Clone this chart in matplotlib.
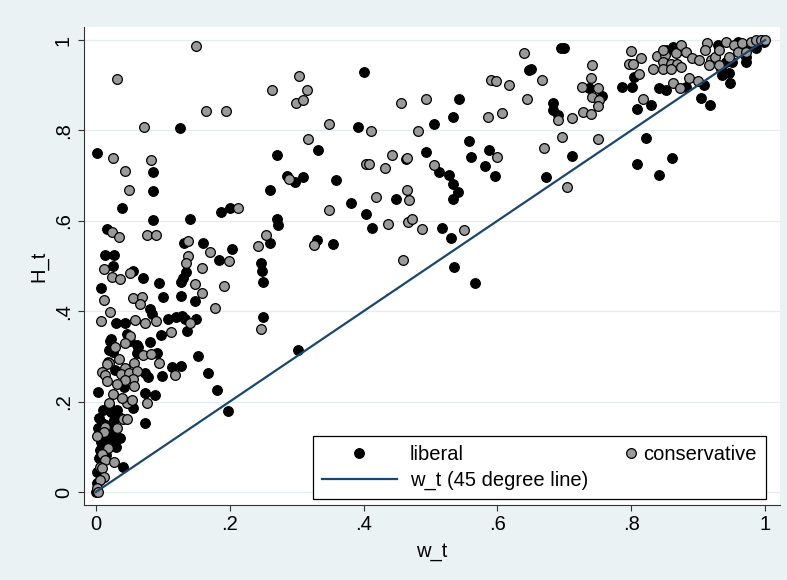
import numpy as np
import matplotlib
matplotlib.use("Agg")
import matplotlib.pyplot as plt
from matplotlib.legend_handler import HandlerLine2D

plt.rcParams['font.family'] = ['Liberation Sans', 'DejaVu Sans']

# ---------------- data ----------------
lib_x = [0.002,0.086,0.125,0.270,0.332,0.286,0.297,0.309,0.086,0.260,
         0.039,0.187,0.200,0.085,0.140,0.271,0.272,0.017,0.131,0.160,
         0.260,0.330,0.013,0.027,0.203,0.184,0.025,0.056,0.070,0.135,
         0.130,0.127,0.247,0.248,0.249,0.008,0.094,0.100,0.127,0.148,
         0.081,0.084,0.030,0.044,0.108,0.120,0.128,0.133,0.150,0.136,
         0.249,0.097,0.081,0.023,0.046,0.062,0.302,0.153,0.168,0.181,
         0.197,0.113,0.127,0.099,0.078,0.003,0.074,0.041,0.073,0.088,
         0.056,0.091,0.019,0.029,0.074,0.042,0.019,0.011,0.023,0.032,
         0.004,0.009,0.027,0.034,0.019,0.027,0.036,0.007,0.014,0.004,
         0.002,0.002,0.000,
         0.015,0.024,0.003,0.012,0.021,0.030,0.006,0.015,
         0.021,0.051,0.063,0.061,0.026,0.018,
         0.400,0.543,0.647,0.650,0.534,0.392,0.506,0.557,0.493,0.464,
         0.561,0.587,0.581,0.596,0.673,0.359,0.512,0.528,0.533,0.541,
         0.534,0.449,0.381,0.403,0.413,0.517,0.531,0.354,0.535,0.567,
         0.695,0.700,0.737,0.757,0.683,0.683,0.690,
         0.804,0.787,0.801,0.829,0.808,
         0.852,0.862,0.874,
         0.842,0.852,0.882,0.909,0.905,0.918,0.947,
         0.934,0.941,0.951,0.971,0.986,0.999,0.971,0.936,
         0.822,0.809,0.841,0.861,0.711,
         0.930,0.960,0.980,0.946]
lib_y = [0.749,0.708,0.806,0.746,0.757,0.700,0.686,0.698,0.665,0.668,
         0.629,0.619,0.628,0.602,0.603,0.604,0.591,0.583,0.552,0.550,
         0.552,0.558,0.524,0.524,0.537,0.513,0.500,0.490,0.474,0.487,
         0.473,0.465,0.506,0.488,0.465,0.451,0.462,0.431,0.434,0.423,
         0.404,0.394,0.375,0.375,0.382,0.387,0.389,0.383,0.382,0.357,
         0.388,0.347,0.332,0.338,0.349,0.325,0.314,0.302,0.263,0.225,
         0.179,0.277,0.279,0.257,0.255,0.222,0.153,0.056,0.218,0.215,
         0.185,0.307,0.314,0.270,0.263,0.233,0.192,0.181,0.178,0.181,
         0.163,0.152,0.159,0.167,0.133,0.122,0.119,0.111,0.104,0.075,
         0.045,0.019,0.000,
         0.148,0.142,0.142,0.122,0.108,0.100,0.093,0.082,
         0.333,0.333,0.321,0.307,0.310,0.288,
         0.929,0.869,0.934,0.937,0.830,0.808,0.815,0.777,0.752,0.736,
         0.742,0.757,0.722,0.699,0.698,0.690,0.709,0.701,0.681,0.663,
         0.648,0.648,0.639,0.615,0.584,0.584,0.561,0.548,0.498,0.462,
         0.982,0.982,0.893,0.877,0.860,0.845,0.834,
         0.919,0.897,0.895,0.856,0.847,
         0.978,0.985,0.978,
         0.893,0.889,0.897,0.900,0.871,0.856,0.906,
         0.937,0.952,0.952,0.952,0.982,0.996,0.963,0.923,
         0.783,0.726,0.701,0.740,0.744,
         0.990,0.995,0.990,0.926]

con_x = [0.032,0.149,0.263,0.303,0.316,0.299,0.310,0.165,0.194,0.072,
         0.348,0.025,0.083,0.044,0.317,0.289,0.049,0.212,0.349,0.024,
         0.035,0.076,0.090,0.138,0.254,0.242,0.326,0.138,0.135,0.171,
         0.199,0.012,0.024,0.036,0.051,0.158,0.148,0.191,0.012,0.056,
         0.069,0.066,0.158,0.178,0.021,0.008,0.059,0.074,0.090,0.141,
         0.246,0.112,0.029,0.051,0.044,0.118,0.094,0.071,0.082,0.076,
         0.047,0.054,0.034,0.020,0.017,0.057,0.043,0.009,0.013,0.037,
         0.050,0.062,0.016,0.055,0.044,0.031,0.057,0.025,0.039,0.019,
         0.041,0.046,0.013,0.032,0.012,0.002,0.018,0.009,0.014,0.027,
         0.006,0.009,0.012,0.006,0.001,0.003,
         0.640,0.456,0.494,0.591,0.598,0.618,0.667,0.645,0.586,0.607,
         0.411,0.481,0.443,0.465,0.404,0.408,0.432,0.600,0.669,0.506,
         0.419,0.465,0.468,0.437,0.466,0.472,0.487,0.550,0.459,
         0.742,0.740,0.727,0.750,0.742,0.752,0.751,0.728,0.740,0.691,0.712,
         0.800,0.815,0.796,0.803,0.812,0.818,
         0.839,0.851,0.867,0.874,0.882,0.847,0.859,0.869,0.832,0.847,0.859,0.874,
         0.863,0.873,0.887,0.900,
         0.891,0.901,0.914,0.911,0.919,0.926,0.931,0.941,0.946,0.954,
         0.959,0.966,0.971,0.979,0.986,0.994,0.916,0.931,0.847,
         0.697,0.751,0.704,1.000]
con_y = [0.914,0.987,0.889,0.920,0.889,0.861,0.867,0.844,0.844,0.808,
         0.815,0.740,0.735,0.710,0.780,0.692,0.668,0.628,0.624,0.576,
         0.565,0.569,0.569,0.555,0.568,0.544,0.546,0.522,0.506,0.530,
         0.510,0.493,0.476,0.471,0.485,0.496,0.460,0.456,0.425,0.430,
         0.431,0.415,0.440,0.406,0.398,0.379,0.381,0.374,0.378,0.375,
         0.361,0.354,0.321,0.346,0.329,0.259,0.285,0.303,0.305,0.196,
         0.198,0.204,0.294,0.285,0.283,0.286,0.274,0.265,0.259,0.260,
         0.263,0.268,0.246,0.249,0.248,0.238,0.235,0.216,0.207,0.196,
         0.161,0.162,0.144,0.142,0.133,0.124,0.097,0.083,0.071,0.066,
         0.056,0.052,0.034,0.027,0.008,0.001,
         0.971,0.861,0.869,0.912,0.909,0.900,0.912,0.870,0.830,0.839,
         0.799,0.799,0.745,0.740,0.726,0.726,0.717,0.742,0.762,0.723,
         0.653,0.669,0.646,0.594,0.597,0.603,0.582,0.579,0.513,
         0.945,0.917,0.897,0.893,0.875,0.867,0.854,0.841,0.836,0.823,0.828,
         0.976,0.961,0.946,0.947,0.925,0.869,
         0.965,0.968,0.971,0.989,0.974,0.952,0.948,0.948,0.937,0.935,0.935,0.941,
         0.904,0.893,0.915,0.910,
         0.960,0.956,0.993,0.978,0.956,0.963,0.978,0.996,0.963,0.989,
         0.974,0.993,0.974,0.996,0.999,0.999,0.945,0.945,0.978,
         0.785,0.781,0.674,1.000]

line_w = [0.0, 1.0]          # w_t plotted against itself (45 degree line)
y_ticks = [0, 0.2, 0.4, 0.6, 0.8, 1.0]
y_ticklabels = ["0", ".2", ".4", ".6", ".8", "1"]
x_ticks = [0, 0.2, 0.4, 0.6, 0.8, 1.0]
x_ticklabels = ["0", ".2", ".4", ".6", ".8", "1"]

# ---------------- styling ----------------
BG = "#EAF2F3"
NAVY = "#1A476F"
GRAY = "#9A9A9A"
FS = 14.5

class RightMarkerHandler(HandlerLine2D):
    """Legend handle whose single marker sits at the right end, next to the text."""
    def get_xdata(self, legend, xdescent, ydescent, width, height, fontsize):
        pos = -xdescent + width + 0.05 * fontsize
        xdata = np.array([pos - 1.0, pos + 1.0])
        return xdata, np.array([pos])

fig = plt.figure(figsize=(7.87, 5.80), dpi=100, facecolor=BG)
ax = fig.add_axes([0.1067, 0.1293, 0.9911 - 0.1067, 0.9534 - 0.1293])
ax.set_facecolor("white")

ax.set_xlim(-0.0179, 1.0224)
ax.set_ylim(-0.0288, 1.0288)

for yt in y_ticks:
    ax.axhline(yt, color="#E3ECEF", lw=0.9, zorder=0)

ms = 7.0
h_lib, = ax.plot(lib_x, lib_y, 'o', color="black", mfc="black", mec="black",
                 ms=ms, mew=0.8, zorder=3, label="liberal")
h_con, = ax.plot(con_x, con_y, 'o', mfc=GRAY, mec="black",
                 ms=ms, mew=0.9, zorder=4, label="conservative")
h_line, = ax.plot(line_w, line_w, color=NAVY, lw=1.6, zorder=5,
                  label="w_t (45 degree line)")

for s in ["top", "right"]:
    ax.spines[s].set_visible(False)
for s in ["left", "bottom"]:
    ax.spines[s].set_color("#333333")
    ax.spines[s].set_linewidth(0.8)

ax.set_xticks(x_ticks)
ax.set_xticklabels(x_ticklabels)
ax.set_yticks(y_ticks)
ax.set_yticklabels(y_ticklabels, rotation=90, va="center")
ax.tick_params(axis="both", direction="out", length=4, width=0.8,
               color="#333333", labelsize=FS, labelcolor="black")
ax.tick_params(axis="x", pad=3)
ax.tick_params(axis="y", pad=4)

ax.set_xlabel("w_t", fontsize=FS, labelpad=6)
ax.set_ylabel("H_t", fontsize=FS, labelpad=4)

leg = ax.legend([h_lib, h_line, h_con],
                ["liberal", "w_t (45 degree line)", "conservative"],
                ncol=2, loc="lower left",
                bbox_to_anchor=((313 - 84) / 696, (505 - 499) / 478),
                borderaxespad=0, fontsize=FS, frameon=True, fancybox=False,
                edgecolor="black", framealpha=1, handlelength=3.7,
                handletextpad=0.65, columnspacing=-1.6, borderpad=0.45,
                labelspacing=0.35, numpoints=1,
                handler_map={h_con: RightMarkerHandler()})
leg.get_frame().set_linewidth(0.9)
leg.set_zorder(10)

fig.savefig("out.png", dpi=100, facecolor=BG)
